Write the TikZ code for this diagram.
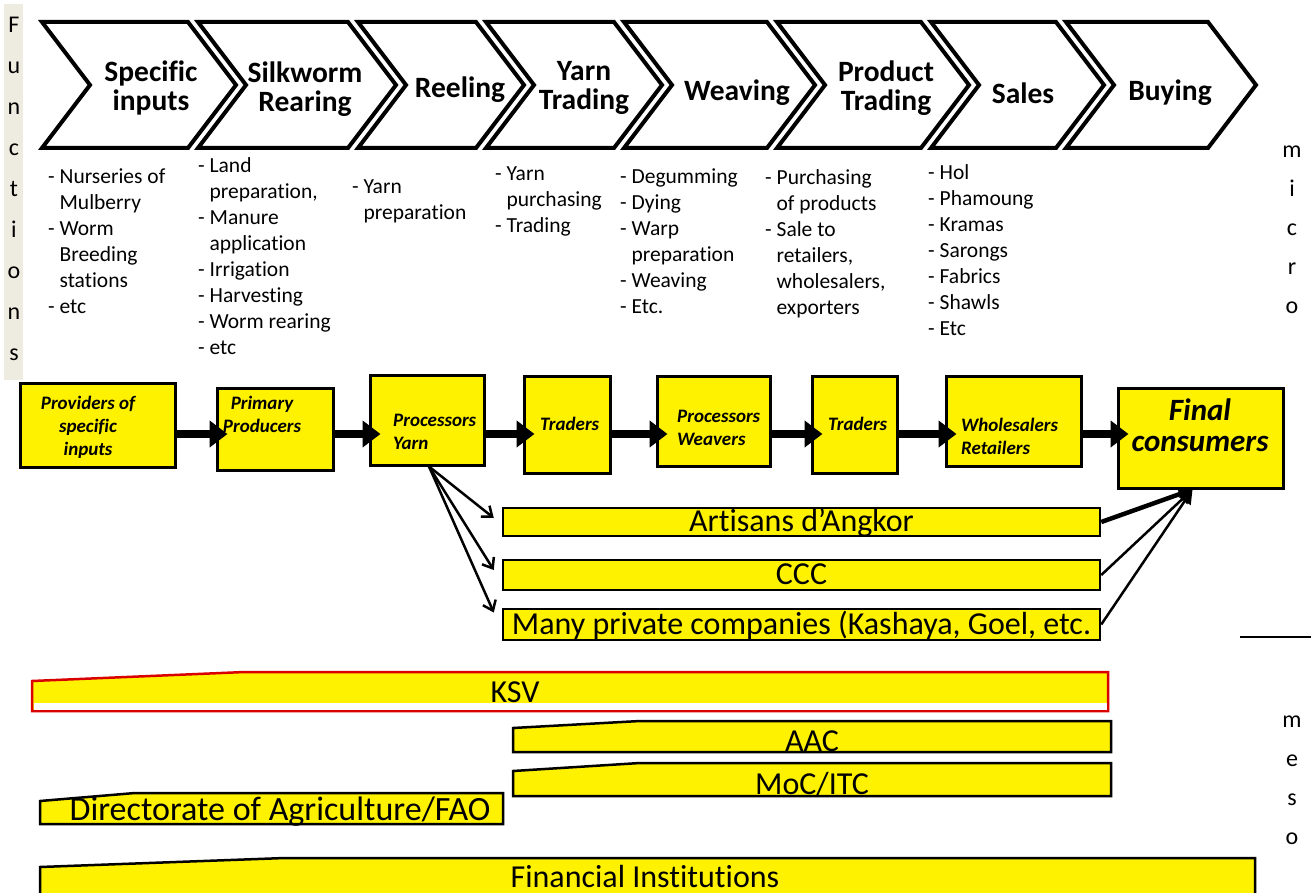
\documentclass[tikz,border=0pt]{standalone}
\usepackage{fontspec}
\setmainfont[Ligatures=NoCommon]{Carlito}
\usetikzlibrary{arrows.meta}
\definecolor{funcbg}{HTML}{EEECE1}
\newcommand{\listindent}{\hspace*{0.53em}}

\begin{document}
\begin{tikzpicture}[x=1pt, y=-1pt,
chevron/.style={draw=black, line width=4pt, fill=white, line join=miter},
chevtext/.style={font=\fontsize{29.5}{29}\selectfont\bfseries, align=center, inner sep=0pt},
listtext/.style={font=\fontsize{21.5}{26}\selectfont, align=left, anchor=north west, inner sep=0pt},
actor/.style={rectangle, draw=black, line width=3pt, fill=yellow, inner sep=0pt},
actortext/.style={font=\fontsize{19}{23}\selectfont\bfseries\itshape, align=center, inner sep=0pt},
flow/.style={line width=8pt, shorten >=-12pt, -{Triangle[length=18pt,width=26pt]}},
branch/.style={line width=2.5pt, -{Straight Barb[length=9pt,width=14pt]}},
feed/.style={line width=2.5pt, -{Triangle[length=14pt,width=14pt]}},
bar/.style={rectangle, draw=black, line width=2.5pt, fill=yellow, inner sep=0pt, font=\fontsize{32}{32}\selectfont, text height=21pt, text depth=2pt},
mesobar/.style={draw=black, line width=2.5pt, fill=yellow, line join=miter},
bartext/.style={font=\fontsize{32}{32}\selectfont, inner sep=0pt},
levels/.style={font=\fontsize{24}{39}\selectfont, align=center, inner sep=0pt}]
\useasboundingbox (0,0) rectangle (1311,893);

% functions column
\fill[funcbg] (4,4) rectangle (23,380);
\node[levels, font=\fontsize{24}{41}\selectfont] (functions) at (14,189) {F\\u\\n\\c\\t\\i\\o\\n\\s};
\node[levels] (micro) at (1292,230) {m\\i\\c\\r\\o};
\node[levels] (meso) at (1292,780) {m\\e\\s\\o};

% chevrons
\draw[chevron] (42,22) -- (188,22) -- (236,85) -- (188,148) -- (42,148) -- (90,85) -- cycle;
\draw[chevron] (198,22) -- (348,22) -- (396,85) -- (348,148) -- (198,148) -- (246,85) -- cycle;
\draw[chevron] (358,22) -- (476,22) -- (524,85) -- (476,148) -- (358,148) -- (406,85) -- cycle;
\draw[chevron] (486,22) -- (614,22) -- (662,85) -- (614,148) -- (486,148) -- (534,85) -- cycle;
\draw[chevron] (624,22) -- (767,22) -- (815,85) -- (767,148) -- (624,148) -- (672,85) -- cycle;
\draw[chevron] (777,22) -- (921,22) -- (969,85) -- (921,148) -- (777,148) -- (825,85) -- cycle;
\draw[chevron] (931,22) -- (1056,22) -- (1104,85) -- (1056,148) -- (931,148) -- (979,85) -- cycle;
\draw[chevron] (1066,22) -- (1208,22) -- (1256,85) -- (1208,148) -- (1066,148) -- (1114,85) -- cycle;

\node[chevtext] (specific) at (151,88) {Specific\\inputs};
\node[chevtext] (silkworm) at (305,89) {Silkworm\\Rearing};
\node[chevtext] (reeling) at (460,90) {Reeling};
\node[chevtext] (yarntrading) at (584,88) {Yarn\\Trading};
\node[chevtext] (weaving) at (737,93) {Weaving};
\node[chevtext] (producttrading) at (886,88) {Product\\Trading};
\node[chevtext] (sales) at (1023,93) {Sales};
\node[chevtext] (buying) at (1170,93) {Buying};

% activities
\node[listtext] (inputlist) at (48,169) {- Nurseries of\\\listindent Mulberry\\- Worm\\\listindent Breeding\\\listindent stations\\- etc};
\node[listtext] (rearinglist) at (198,157) {- Land\\\listindent preparation,\\- Manure\\\listindent application\\- Irrigation\\- Harvesting\\- Worm rearing\\- etc};
\node[listtext] (reelinglist) at (352,180) {- Yarn\\\listindent preparation};
\node[listtext] (yarnlist) at (495,167) {- Yarn\\\listindent purchasing\\- Trading};
\node[listtext] (weavinglist) at (620,169) {- Degumming\\- Dying\\- Warp\\\listindent preparation\\- Weaving\\- Etc.};
\node[listtext] (productlist) at (765,169) {- Purchasing\\\listindent of products\\- Sale to\\\listindent retailers,\\\listindent wholesalers,\\\listindent exporters};
\node[listtext] (saleslist) at (928,164) {- Hol\\- Phamoung\\- Kramas\\- Sarongs\\- Fabrics\\- Shawls\\- Etc};

% actors
\node[actor, minimum width=155pt, minimum height=84pt] (providers) at (97.5,425) {};
\node[actor, minimum width=116pt, minimum height=82pt] (primary) at (275,429) {};
\node[actor, minimum width=114pt, minimum height=90pt] (procyarn) at (427,420) {};
\node[actor, minimum width=86pt, minimum height=97pt] (traders1) at (567,424.5) {};
\node[actor, minimum width=113pt, minimum height=90pt] (procweav) at (713.5,421) {};
\node[actor, minimum width=85pt, minimum height=97pt] (traders2) at (854.5,424.5) {};
\node[actor, minimum width=135pt, minimum height=90pt] (wholesale) at (1013.5,421) {};
\node[actor, minimum width=165pt, minimum height=100pt] (final) at (1200.5,438) {};

\node[actortext] (providerstxt) at (88,427) {Providers of\\specific\\inputs};
\node[actortext] (primarytxt) at (262,414) {Primary\\Producers};
\node[actortext, align=left, anchor=west] (procyarntxt) at (393,432) {Processors\\Yarn};
\node[actortext, anchor=west] (traders1txt) at (540,424) {Traders};
\node[actortext, align=left, anchor=west] (procweavtxt) at (677,428) {Processors\\Weavers};
\node[actortext, anchor=west] (traders2txt) at (828,424) {Traders};
\node[actortext, align=left, anchor=west] (wholesaletxt) at (961,436) {Wholesalers\\Retailers};
\node[actortext, font=\fontsize{31}{31}\selectfont\bfseries\itshape] (finaltxt) at (1200,425) {Final\\consumers};

\coordinate (row) at (0,434);
\draw[flow] (providers.east |- row) -- (primary.west |- row);
\draw[flow] (primary.east |- row) -- (procyarn.west |- row);
\draw[flow] (procyarn.east |- row) -- (traders1.west |- row);
\draw[flow] (traders1.east |- row) -- (procweav.west |- row);
\draw[flow] (procweav.east |- row) -- (traders2.west |- row);
\draw[flow] (traders2.east |- row) -- (wholesale.west |- row);
\draw[flow] (wholesale.east |- row) -- (final.west |- row);

% companies
\node[bar, minimum width=597pt, minimum height=28pt] (artisans) at (801.5,522) {Artisans d’Angkor};
\node[bar, minimum width=597pt, minimum height=30pt] (ccc) at (801.5,575) {CCC};
\node[bar, minimum width=597pt, minimum height=31pt] (many) at (801.5,624.5) {Many private companies (Kashaya, Goel, etc.};

\draw[branch] ([xshift=2pt]procyarn.south) -- ([xshift=-8pt,yshift=4pt]artisans.west);
\draw[branch] ([xshift=2pt]procyarn.south) -- ([xshift=-8pt,yshift=5pt]ccc.west);
\draw[branch] ([xshift=2pt]procyarn.south) -- ([xshift=-8pt,yshift=12pt]many.west);

\draw[feed, line width=4.5pt] (artisans.east) -- ([xshift=-8pt]final.south);
\draw[feed] (ccc.east) -- ([xshift=-8pt]final.south);
\draw[feed] (many.east) -- ([xshift=-8pt]final.south);

\draw[line width=2pt] (1240,637) -- (1311,637);

% meso institutions
\draw[mesobar, draw=red!85!black] (32,681) -- (245,672) -- (1108,672) -- (1108,711) -- (32,711) -- cycle;
\fill[white] (33.5,703) rectangle (1106.5,709.5);
\node[bartext] (ksv) at (515,692) {KSV};
\draw[mesobar] (513,728) -- (640,721) -- (1111,721) -- (1111,752) -- (513,752) -- cycle;
\node[bartext] (aac) at (812,741) {AAC};
\draw[mesobar] (513,771) -- (640,763) -- (1111,763) -- (1111,796) -- (513,796) -- cycle;
\node[bartext] (moc) at (812,784) {MoC/ITC};
\draw[mesobar] (40,801) -- (135,793) -- (503,793) -- (503,824) -- (40,824) -- cycle;
\node[bartext, font=\fontsize{34}{34}\selectfont] (doa) at (280,812) {Directorate of Agriculture/FAO};
\draw[mesobar] (40,867) -- (285,858) -- (1255,858) -- (1255,896) -- (40,896) -- cycle;
\node[bartext] (finance) at (645,876) {Financial Institutions};

\end{tikzpicture}
\end{document}
